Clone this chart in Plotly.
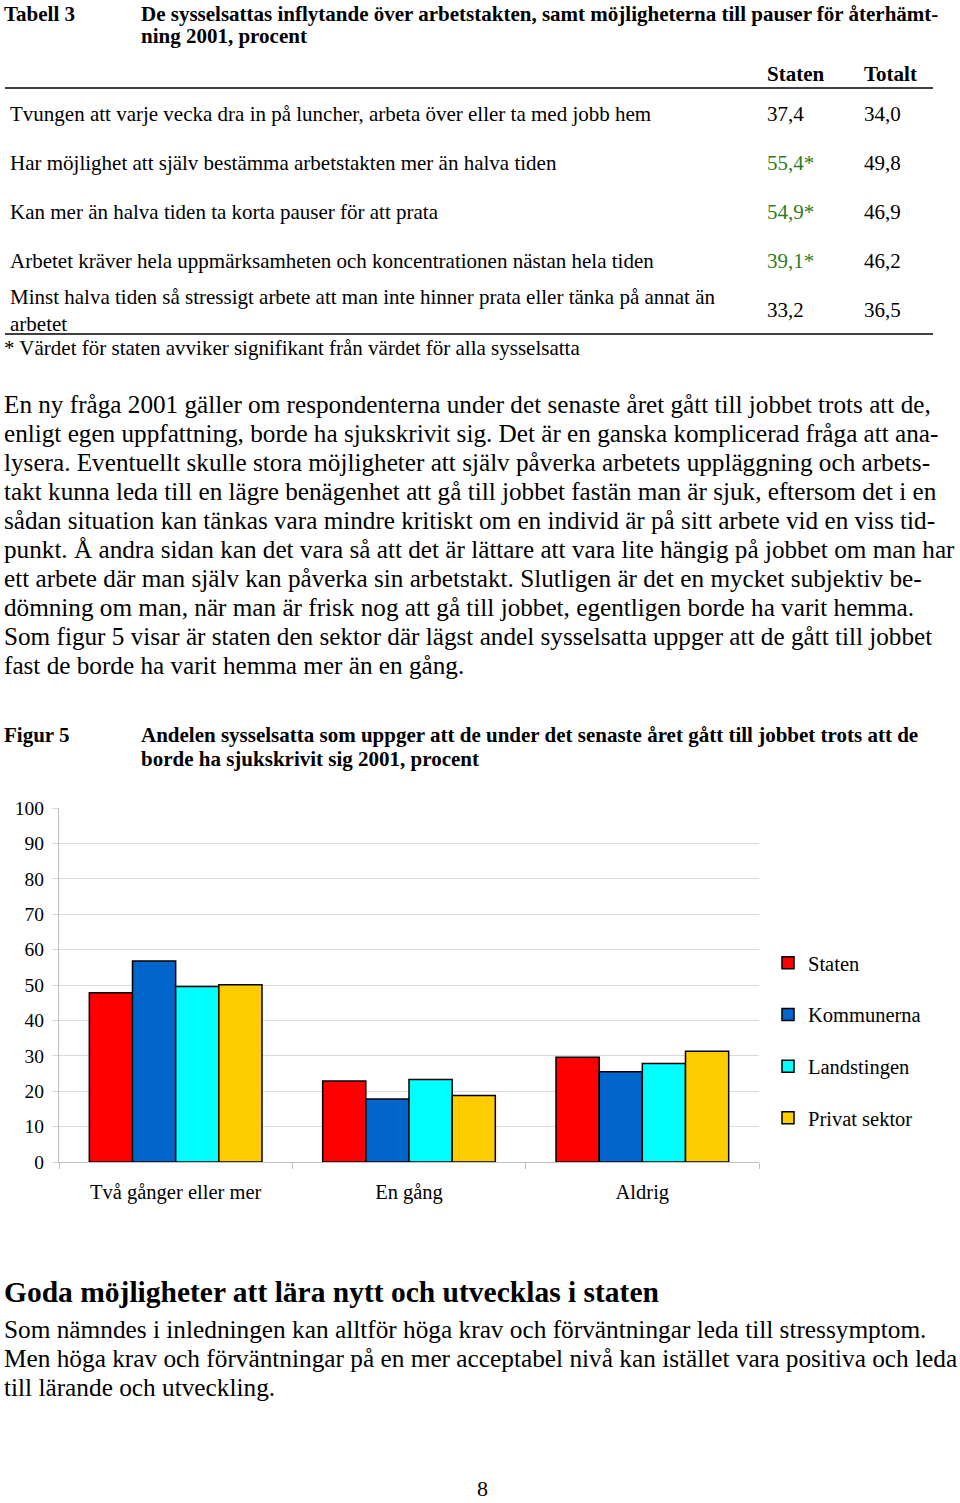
import plotly.graph_objects as go

W, H = 960, 1503
SERIF = "Liberation Serif, Times New Roman, serif"

# ---------------- data ----------------
categories = ["Två gånger eller mer", "En gång", "Aldrig"]
series_names = ["Staten", "Kommunerna", "Landstingen", "Privat sektor"]
staten = [47.8, 22.9, 29.6]
kommunerna = [56.8, 17.8, 25.5]
landstingen = [49.6, 23.3, 27.8]
privat = [50.1, 18.8, 31.3]
series_colors = ["#FF0000", "#0066CC", "#00FFFF", "#FFCC00"]
y_ticks = [0, 10, 20, 30, 40, 50, 60, 70, 80, 90, 100]

table_rows = [
    "Tvungen att varje vecka dra in på luncher, arbeta över eller ta med jobb hem",
    "Har möjlighet att själv bestämma arbetstakten mer än halva tiden",
    "Kan mer än halva tiden ta korta pauser för att prata",
    "Arbetet kräver hela uppmärksamheten och koncentrationen nästan hela tiden",
    "Minst halva tiden så stressigt arbete att man inte hinner prata eller tänka på annat än<br>arbetet",
]
table_staten = ["37,4", "55,4*", "54,9*", "39,1*", "33,2"]
table_totalt = ["34,0", "49,8", "46,9", "46,2", "36,5"]
table_signif = [False, True, True, True, False]

paragraph = [
    "En ny fråga 2001 gäller om respondenterna under det senaste året gått till jobbet trots att de,",
    "enligt egen uppfattning, borde ha sjukskrivit sig. Det är en ganska komplicerad fråga att ana-",
    "lysera. Eventuellt skulle stora möjligheter att själv påverka arbetets uppläggning och arbets-",
    "takt kunna leda till en lägre benägenhet att gå till jobbet fastän man är sjuk, eftersom det i en",
    "sådan situation kan tänkas vara mindre kritiskt om en individ är på sitt arbete vid en viss tid-",
    "punkt. Å andra sidan kan det vara så att det är lättare att vara lite hängig på jobbet om man har",
    "ett arbete där man själv kan påverka sin arbetstakt. Slutligen är det en mycket subjektiv be-",
    "dömning om man, när man är frisk nog att gå till jobbet, egentligen borde ha varit hemma.",
    "Som figur 5 visar är staten den sektor där lägst andel sysselsatta uppger att de gått till jobbet",
    "fast de borde ha varit hemma mer än en gång.",
]
closing = [
    "Som nämndes i inledningen kan alltför höga krav och förväntningar leda till stressymptom.",
    "Men höga krav och förväntningar på en mer acceptabel nivå kan istället vara positiva och leda",
    "till lärande och utveckling.",
]

# ---------------- figure ----------------
fig = go.Figure()
for name, vals, col in zip(series_names, [staten, kommunerna, landstingen, privat], series_colors):
    fig.add_trace(go.Bar(
        name=name, x=categories, y=vals, legendgroup=name,
        marker=dict(color=col, line=dict(color="#000000", width=1.5)),
    ))


def px(x):
    return x / W


def py(y):
    return 1 - y / H


ann = []


def txt(x, y, s, size=21, bold=False, color="#000000", anchor="left"):
    if bold:
        s = "<b>" + s + "</b>"
    ann.append(dict(x=px(x), y=py(y), xref="paper", yref="paper", text=s,
                    showarrow=False, xanchor=anchor, yanchor="middle", align="left",
                    borderpad=0,
                    font=dict(family=SERIF, size=size, color=color)))


# Table header
txt(3, 13.5, "Tabell 3", 21, True)
txt(140, 13.5, "De sysselsattas inflytande över arbetstakten, samt möjligheterna till pauser för återhämt-", 21, True)
txt(140, 36, "ning 2001, procent", 21, True)
txt(766, 74, "Staten", 21, True)
txt(863, 74, "Totalt", 21, True)

row_y = [114, 163, 212, 261, 310]
for i, (r, s, t, sig) in enumerate(zip(table_rows, table_staten, table_totalt, table_signif)):
    txt(9, row_y[i], r, 21)
    txt(766, row_y[i], s, 21, color="#2E7D1E" if sig else "#000000")
    txt(863, row_y[i], t, 21)
txt(3, 348, "* Värdet för staten avviker signifikant från värdet för alla sysselsatta", 21)

shapes = [
    dict(type="line", xref="paper", yref="paper", x0=px(5), x1=px(933), y0=py(88), y1=py(88),
         line=dict(color="#000000", width=1.5)),
    dict(type="line", xref="paper", yref="paper", x0=px(5), x1=px(933), y0=py(334), y1=py(334),
         line=dict(color="#000000", width=1.5)),
]

# Paragraph
for i, line in enumerate(paragraph):
    txt(3, 404 + i * 29.1, line, 25.2)

# Figure caption
txt(3, 735, "Figur 5", 21, True)
txt(140, 735, "Andelen sysselsatta som uppger att de under det senaste året gått till jobbet trots att de", 21, True)
txt(140, 759, "borde ha sjukskrivit sig 2001, procent", 21, True)

# Closing section
txt(3, 1292, "Goda möjligheter att lära nytt och utvecklas i staten", 29.5, True)
for i, line in enumerate(closing):
    txt(3, 1329 + i * 29, line, 25.3)
txt(482, 1488, "8", 22, anchor="center")

fig.update_layout(
    width=W, height=H,
    margin=dict(l=0, r=0, t=0, b=0, pad=0, autoexpand=False),
    paper_bgcolor="#FFFFFF", plot_bgcolor="#FFFFFF",
    barmode="group", bargap=0.26, bargroupgap=0,
    font=dict(family=SERIF, size=19, color="#000000"),
    showlegend=True,
    legend=dict(x=px(768), y=py(943), xanchor="left", yanchor="top",
                font=dict(family=SERIF, size=20.5, color="#000000"),
                tracegroupgap=22, bgcolor="rgba(0,0,0,0)"),
    xaxis=dict(domain=[px(59), px(759)], type="category", automargin=False,
               showgrid=False, showline=True, linecolor="#BFBFBF", linewidth=1,
               ticks="outside", tickson="boundaries", ticklen=6, tickcolor="#BFBFBF",
               ticklabelstandoff=11,
               tickfont=dict(family=SERIF, size=20.5, color="#000000")),
    yaxis=dict(domain=[py(1162), py(808)], range=[0, 100], automargin=False,
               tickvals=y_ticks, ticktext=[str(v) for v in y_ticks],
               showgrid=True, gridcolor="#D9D9D9", gridwidth=1,
               showline=True, linecolor="#BFBFBF", linewidth=1,
               ticks="outside", ticklen=6, tickcolor="#D9D9D9",
               ticklabelstandoff=4, zeroline=False,
               tickfont=dict(family=SERIF, size=19.5, color="#000000")),
    annotations=ann,
    shapes=shapes,
)

fig.write_html("out.html", config={"displayModeBar": False},
               post_script="document.body.style.margin='0';document.body.style.overflow='hidden';")
